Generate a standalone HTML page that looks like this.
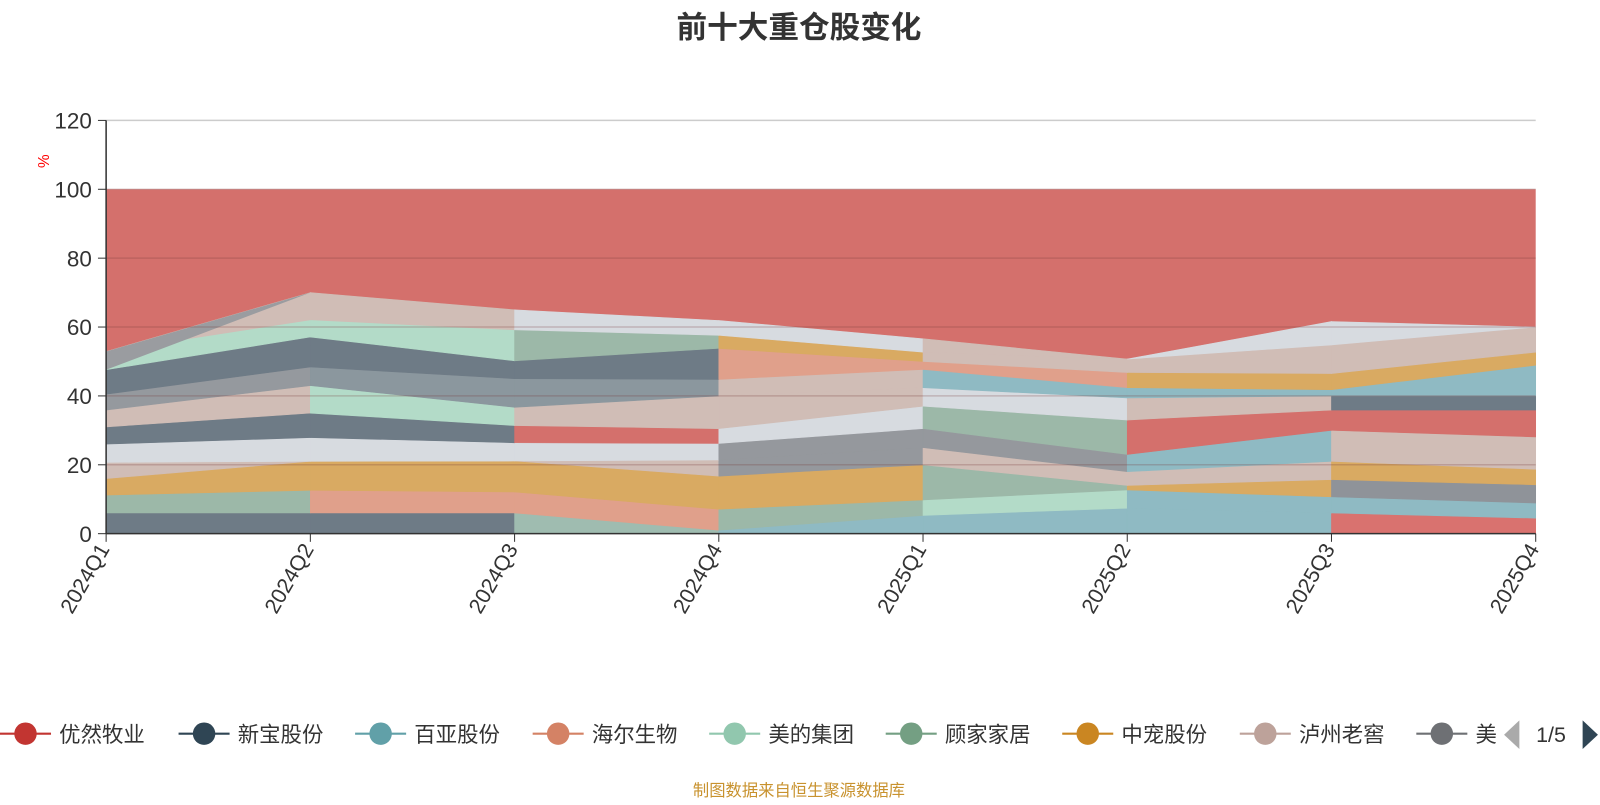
<!DOCTYPE html>
<html><head><meta charset="utf-8"><style>
body{margin:0;background:#fff;width:1600px;height:800px;overflow:hidden;font-family:"Liberation Sans","Noto Sans CJK SC",sans-serif}
</style></head><body>
<svg id="s" width="1600" height="800" xmlns="http://www.w3.org/2000/svg" font-family="Liberation Sans, Noto Sans CJK SC, sans-serif">
<g transform="scale(1.0204)">
<text x="783" y="37" text-anchor="middle" font-size="30" font-weight="bold" fill="#333">前十大重仓股变化</text>
<rect x="104" y="185.5" width="1401" height="337.5" fill="#d4706c"/>
<g id="bands"></g>
<g id="grid"></g>
<text x="48" y="158" fill="red" font-size="15" transform="rotate(-90 48 158)" text-anchor="middle">%</text>
<g id="leg"></g>
<text x="783" y="780" text-anchor="middle" font-size="16" fill="#c8922e">制图数据来自恒生聚源数据库</text>
</g>
</svg>
<script>
const NS="http://www.w3.org/2000/svg";
function el(t,a,p,txt){const e=document.createElementNS(NS,t);for(const k in a)e.setAttribute(k,a[k]);if(txt)e.textContent=txt;p.appendChild(e);return e;}
const X=i=>104+i*1401/7, Y=v=>523-v*3.375;
const D=[[0,6,11.2,16,20.7,26,31,35.9,40.5,47.6,52.9,52.9],
[0,6,12.6,21,21,27.9,35,43,48.4,57.1,62.1,70],
[0,6,12.1,21.1,21.1,26.4,31.4,36.7,45,50.2,59.2,65],
[0,1,7.1,16.7,21.4,26.2,30.5,40,44.8,53.8,57.6,61.9],
[0,5.3,9.8,20,25,30.5,37,42.4,47.7,50,52.7,56.6],
[0,7.4,12.7,14,18,23,33,39.4,42.4,46.8,50.7,50.7],
[0,6,10.7,15.7,21,30,35.9,40,41.8,46.5,54.8,61.6],
[0,4.5,8.9,14.2,18.7,28.1,35.9,40,48.9,52.7,60,60]];
const C=[
['#6e7b86','#6e7b86','#9fbcb0','#8fbac3','#8fbac3','#8fbac3','#d9726f'],
['#9cb8a8','#e0a08b','#e0a08b','#9cb8a8','#b3dbc8','#8fbac3','#8fbac3'],
['#d9aa62','#d9aa62','#d9aa62','#d9aa62','#9cb8a8','#d9aa62','#8f9399'],
['#d0bdb6','#d0bdb6','#d0bdb6','#95989d','#d0bdb6','#d0bdb6','#d9aa62'],
['#d7dbe0','#d7dbe0','#d7dbe0','#95989d','#95989d','#8fbac3','#d0bdb6'],
['#6e7b86','#6e7b86','#d4706c','#d7dbe0','#9cb8a8','#d4706c','#d4706c'],
['#d0bdb6','#b3dbc8','#d0bdb6','#d0bdb6','#d7dbe0','#d0bdb6','#6e7b86'],
['#95999e','#8b979e','#8b979e','#d0bdb6','#8fbac3','#8fbac3','#8fbac3'],
['#6e7b86','#6e7b86','#6e7b86','#e0a08b','#e0a08b','#d9aa62','#d9aa62'],
['#b3dbc8','#b3dbc8','#9cb8a8','#d9aa62','#d0bdb6','#d0bdb6','#d0bdb6'],
['#d0bdb6','#d0bdb6','#d7dbe0','#d7dbe0','#d0bdb6','#d7dbe0','#d7dbe0']];
const B=document.getElementById('bands');
for(let b=0;b<11;b++)for(let s=0;s<7;s++){
const p=[[X(s),Y(D[s][b])],[X(s+1),Y(D[s+1][b])],[X(s+1),Y(D[s+1][b+1])],[X(s),Y(D[s][b+1])]];
el('polygon',{points:p.map(q=>q.join(',')).join(' '),fill:C[b][s],stroke:C[b][s],'stroke-width':0.6},B);}
el('polygon',{points:`${X(0)},${Y(47.6)} ${X(1)},${Y(70)} ${X(0)},${Y(52.9)}`,fill:'#9a9ca0'},B);
const G=document.getElementById('grid');
for(let v=0;v<=120;v+=20){
if(v>0)el('line',{x1:104,x2:1505,y1:Y(v),y2:Y(v),stroke:v>100?'#ccc':'rgba(120,60,60,0.25)','stroke-width':1.5},G);
el('line',{x1:96,x2:104,y1:Y(v),y2:Y(v),stroke:'#333'},G);
el('text',{x:90,y:Y(v)+8,'text-anchor':'end','font-size':22,fill:'#333'},G,String(v));}
el('line',{x1:104,x2:104,y1:118,y2:523,stroke:'#333','stroke-width':1.5},G);
el('line',{x1:104,x2:1505,y1:523,y2:523,stroke:'#333','stroke-width':1.5},G);
const L=['2024Q1','2024Q2','2024Q3','2024Q4','2025Q1','2025Q2','2025Q3','2025Q4'];
L.forEach((t,i)=>{el('line',{x1:X(i),x2:X(i),y1:523,y2:531,stroke:'#333'},G);
el('text',{x:X(i)+4,y:538,'text-anchor':'end','font-size':21,fill:'#333',transform:`rotate(-60 ${X(i)+4} 538)`},G,t);});
const LG=document.getElementById('leg');
const names=['优然牧业','新宝股份','百亚股份','海尔生物','美的集团','顾家家居','中宠股份','泸州老窖','美'];
const lc=['#c23531','#2f4554','#61a0a8','#d48265','#91c7ae','#749f83','#ca8622','#bda29a','#6e7074'];
const lx=[25,200,373,547,720,893,1066,1240,1413];
names.forEach((n,i)=>{el('line',{x1:lx[i]-25,x2:lx[i]+25,y1:719,y2:719,stroke:lc[i],'stroke-width':2},LG);
el('circle',{cx:lx[i],cy:719,r:11,fill:lc[i]},LG);
if(i<8)el('text',{x:lx[i]+33,y:727,'font-size':21,fill:'#333'},LG,n);});
el('rect',{x:1447,y:700,width:25,height:40,fill:'#fff'},LG);
el('text',{x:1446,y:727,'font-size':21,fill:'#333'},LG,'美');
el('rect',{x:1468,y:700,width:132,height:40,fill:'#fff'},LG);
el('polygon',{points:'1489,706 1489,734 1474,720',fill:'#aaa'},LG);
el('text',{x:1520,y:727,'text-anchor':'middle','font-size':21,fill:'#333'},LG,'1/5');
el('polygon',{points:'1551,706 1551,734 1566,720',fill:'#2f4554'},LG);
</script>
</body></html>
